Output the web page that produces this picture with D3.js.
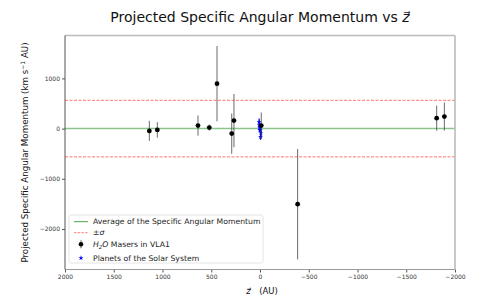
<!DOCTYPE html>
<html>
<head>
<meta charset="utf-8">
<script src="https://cdn.jsdelivr.net/npm/d3@7"></script>
<style>
  body { margin: 0; background: #fff; }
  text { font-family: "DejaVu Sans", sans-serif; }
</style>
</head>
<body>
<script>
// masers in VLA1: position along z (AU), projected specific angular momentum, error
var maserZ   = [1135, 1053, 636, 520, 441, 290, 267, -13, -386, -1812, -1891];
var maserL   = [-46, -26, 60, 20, 894, -100, 160, 60, -1506, 208, 240];
var maserErr = [200, 155, 200, 60, 750, 400, 530, 260, 1100, 250, 280];

// planets of the solar system
var planetZ   = [0.4, -0.7, 1.0, -1.5, 5.2, -9.5, 9, -6];
var planetL   = [18, -25, 30, -37, 68, -92, 130, -163];
var planetErr = [40, 40, 40, 40, 50, 60, 70, 60];

var average = 0;
var sigma = 563;

var xTicks = [2000, 1500, 1000, 500, 0, -500, -1000, -1500, -2000];
var yTicks = [1000, 0, -1000, -2000];

var width = 483, height = 298;
var margin = {left: 65, right: 28, top: 35.5, bottom: 28.5};

var svg = d3.select("body").append("svg")
    .attr("width", width)
    .attr("height", height);

var x = d3.scaleLinear().domain([2000, -2000]).range([margin.left, width - margin.right]);
var y = d3.scaleLinear().domain([-2806, 1854]).range([height - margin.bottom, margin.top]);

var fmt = function(d) { return d < 0 ? "\u2212" + Math.abs(d) : d; };

// axes
var xAxis = svg.append("g")
    .attr("transform", "translate(0," + (height - margin.bottom) + ")")
    .call(d3.axisBottom(x).tickValues(xTicks).tickFormat(fmt).tickSize(3).tickPadding(2));
var yAxis = svg.append("g")
    .attr("transform", "translate(" + margin.left + ",0)")
    .call(d3.axisLeft(y).tickValues(yTicks).tickFormat(fmt).tickSize(3).tickPadding(2));
[xAxis, yAxis].forEach(function(a) {
    a.select(".domain").remove();
    a.selectAll("text").style("font-size", "6px").attr("fill", "#333");
    a.selectAll("line").attr("stroke", "#555");
});

// reference lines
var plot = svg.append("g");
plot.append("line")
    .attr("x1", margin.left).attr("x2", width - margin.right)
    .attr("y1", y(average)).attr("y2", y(average))
    .attr("stroke", "green").attr("stroke-opacity", 0.45).attr("stroke-width", 1.5);
[sigma, -sigma].forEach(function(s) {
    plot.append("line")
        .attr("x1", margin.left).attr("x2", width - margin.right)
        .attr("y1", y(s)).attr("y2", y(s))
        .attr("stroke", "red").attr("stroke-opacity", 0.55).attr("stroke-width", 1)
        .attr("stroke-dasharray", "3,1.5");
});

// planets
var planets = planetZ.map(function(z, i) { return {z: z, l: planetL[i], e: planetErr[i]}; });
plot.selectAll(".perr").data(planets).enter().append("line")
    .attr("x1", function(d) { return x(d.z); }).attr("x2", function(d) { return x(d.z); })
    .attr("y1", function(d) { return y(d.l - d.e); }).attr("y2", function(d) { return y(d.l + d.e); })
    .attr("stroke", "blue").attr("stroke-width", 1.2);
plot.selectAll(".pstar").data(planets).enter().append("path")
    .attr("d", d3.symbol().type(d3.symbolStar).size(8))
    .attr("transform", function(d) { return "translate(" + x(d.z) + "," + y(d.l) + ")"; })
    .attr("fill", "blue");

// masers
var masers = maserZ.map(function(z, i) { return {z: z, l: maserL[i], e: maserErr[i]}; });
plot.selectAll(".merr").data(masers).enter().append("line")
    .attr("x1", function(d) { return x(d.z); }).attr("x2", function(d) { return x(d.z); })
    .attr("y1", function(d) { return y(d.l - d.e); }).attr("y2", function(d) { return y(d.l + d.e); })
    .attr("stroke", "#444").attr("stroke-width", 0.8);
plot.selectAll(".mdot").data(masers).enter().append("circle")
    .attr("cx", function(d) { return x(d.z); })
    .attr("cy", function(d) { return y(d.l); })
    .attr("r", 2.4).attr("fill", "black");

// spines
var x0 = margin.left, x1 = width - margin.right, y0 = margin.top, y1 = height - margin.bottom;
svg.append("line").attr("x1", x0).attr("x2", x1).attr("y1", y0).attr("y2", y0).attr("stroke", "#bbb").attr("stroke-width", 1.6);
svg.append("line").attr("x1", x1).attr("x2", x1).attr("y1", y0).attr("y2", y1).attr("stroke", "#bbb").attr("stroke-width", 1.6);
svg.append("line").attr("x1", x0).attr("x2", x1).attr("y1", y1).attr("y2", y1).attr("stroke", "#999").attr("stroke-width", 1);
svg.append("line").attr("x1", x0).attr("x2", x0).attr("y1", y0).attr("y2", y1).attr("stroke", "#555").attr("stroke-width", 1);

// legend
var lg = svg.append("g").attr("transform", "translate(69,215)");
lg.append("rect").attr("width", 194).attr("height", 48).attr("rx", 2)
    .attr("fill", "white").attr("fill-opacity", 0.8).attr("stroke", "#ddd").attr("stroke-width", 0.8);
var items = [
    {label: "Average of the Specific Angular Momentum", type: "avg", y: 6.7},
    {label: "\u00b1\u03c3", type: "sig", y: 17.7, italic: true},
    {label: "Masers in VLA1", type: "maser", y: 29.3},
    {label: "Planets of the Solar System", type: "planet", y: 43}
];
items.forEach(function(it) {
    var g = lg.append("g").attr("transform", "translate(0," + it.y + ")");
    if (it.type === "avg") {
        g.append("line").attr("x1", 5).attr("x2", 19).attr("stroke", "green").attr("stroke-opacity", 0.7).attr("stroke-width", 1);
    } else if (it.type === "sig") {
        g.append("line").attr("x1", 5).attr("x2", 19).attr("stroke", "red").attr("stroke-opacity", 0.5)
            .attr("stroke-width", 1).attr("stroke-dasharray", "2.5,1.2");
    } else if (it.type === "maser") {
        g.append("line").attr("x1", 12).attr("x2", 12).attr("y1", -4).attr("y2", 4).attr("stroke", "#333").attr("stroke-width", 0.8);
        g.append("circle").attr("cx", 12).attr("r", 2.3).attr("fill", "black");
    } else {
        g.append("path").attr("d", d3.symbol().type(d3.symbolStar).size(8)).attr("transform", "translate(12,0)").attr("fill", "blue");
    }
    var t = g.append("text").attr("x", 24).attr("dy", "0.35em").style("font-size", "7.7px").attr("fill", "#222");
    if (it.type === "maser") {
        t.append("tspan").style("font-style", "italic").text("H");
        t.append("tspan").style("font-style", "italic").style("font-size", "5.5px").attr("dy", "1.5").text("2");
        t.append("tspan").style("font-style", "italic").attr("dy", "-1.5").text("O");
        t.append("tspan").text(" " + it.label);
    } else if (it.italic) {
        t.style("font-style", "italic").text(it.label);
    } else {
        t.text(it.label);
    }
});

// title
var title = svg.append("text").attr("x", 260).attr("y", 22).attr("text-anchor", "middle")
    .style("font-size", "14px").attr("fill", "#111");
title.append("tspan").text("Projected Specific Angular Momentum vs ");
title.append("tspan").style("font-style", "italic").text("z\u20d7");

// axis labels
var xl = svg.append("text").attr("x", 262).attr("y", 294).attr("text-anchor", "middle")
    .style("font-size", "8.5px").attr("fill", "#111");
xl.append("tspan").style("font-style", "italic").text("z\u20d7");
xl.append("tspan").text("\u2003(AU)");

var yl = svg.append("text").attr("transform", "translate(28," + (y0 + y1) / 2 + ") rotate(-90)")
    .attr("text-anchor", "middle").style("font-size", "8.7px").attr("fill", "#111");
yl.append("tspan").text("Projected Specific Angular Momentum (km s");
yl.append("tspan").style("font-size", "6px").attr("dy", "-3").text("\u22121");
yl.append("tspan").attr("dy", "3").text(" AU)");
</script>
</body>
</html>
